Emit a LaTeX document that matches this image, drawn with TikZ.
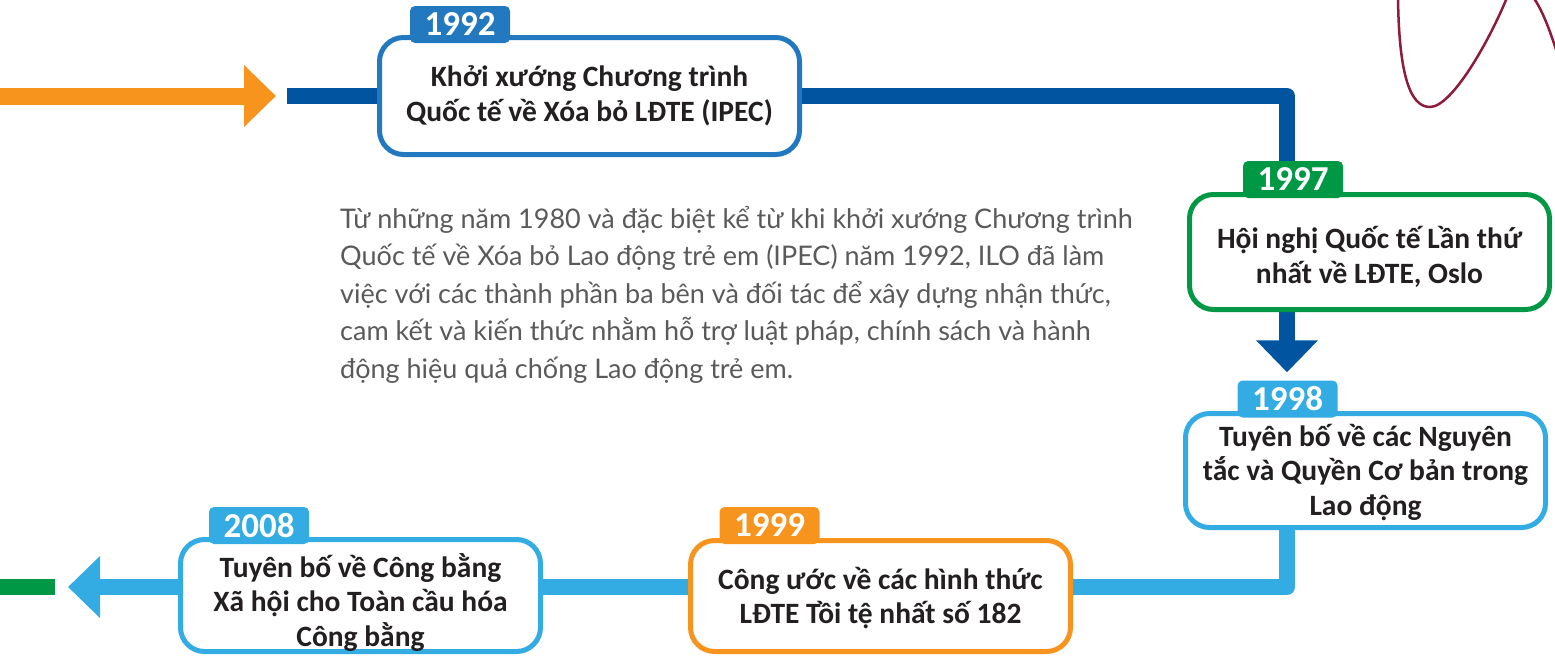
\documentclass[tikz,border=0pt]{standalone}
\usepackage{fontspec}
\setmainfont{Carlito}
\newfontfamily\bodyfont{Lato}
\usetikzlibrary{arrows.meta,calc}
\pgfdeclarelayer{bg}
\pgfsetlayers{bg,main}
\definecolor{orangeC}{HTML}{F7941E}
\definecolor{navyC}{HTML}{0154A0}
\definecolor{blueC}{HTML}{2279BF}
\definecolor{greenC}{HTML}{009845}
\definecolor{skyC}{HTML}{32ACE2}
\definecolor{inkC}{HTML}{231F20}
\definecolor{grayC}{HTML}{5A5A5A}
\definecolor{wineC}{HTML}{8E1A3C}
\newcommand\lowered[2]{\raisebox{-#1}[\height][\depth]{\begin{minipage}{350pt}\centering #2\end{minipage}}}
\begin{document}
\begin{tikzpicture}[x=1pt,y=-1pt,
  event/.style={draw=#1, line width=5pt, rounded corners=24pt, fill=white, align=center,
    text=inkC, font=\bfseries\fontsize{29.5}{34.5}\selectfont, inner sep=0pt},
  tag/.style={fill=#1, rounded corners=5pt, minimum width=100pt, minimum height=37pt,
    inner sep=0pt, text=white, font=\bfseries\fontsize{35}{35}\selectfont},
  track/.style={draw=#1, line width=16pt, line join=round},
  bigtip/.style={-{Triangle[width=60pt,length=32pt]}},
  wave/.style={draw=wineC, line width=2.5pt},
]
\useasboundingbox (0,0) rectangle (1555,656);
\begin{scope}
\clip (0,0) rectangle (1555,656);
\draw[wave] (1398,-2) .. controls (1399,75) and (1410,107) .. (1430,107)
  .. controls (1452,107) and (1490,40) .. (1508,-5)
  .. controls (1515,-20) and (1525,-15) .. (1535,0)
  .. controls (1545,15) and (1553,40) .. (1560,62);
\end{scope}

% free end coordinates
\coordinate (o0) at (0,96);
\coordinate (o1) at (276,96);
\coordinate (n0) at (287,96);
\coordinate (col) at (1287,0);
\coordinate (row) at (0,587);
\coordinate (g0) at (0,587);
\coordinate (g1) at (55,587);
\coordinate (endL) at (68,587);

% event boxes
\node[event=blueC, minimum width=420pt, minimum height=117pt] (b1992) at (589.5,96)
  {Khởi xướng Chương trình\\Quốc tế về Xóa bỏ LĐTE (IPEC)};
\node[event=greenC, minimum width=360pt, minimum height=115pt] (b1997) at (1369.5,252)
  {\lowered{5pt}{Hội nghị Quốc tế Lần thứ\\nhất về LĐTE, Oslo}};
\node[event=skyC, minimum width=360pt, minimum height=114pt] (b1998) at (1365.5,470.5)
  {\lowered{2pt}{Tuyên bố về các Nguyên\\tắc và Quyền Cơ bản trong\\Lao động}};
\node[event=orangeC, minimum width=380pt, minimum height=111pt] (b1999) at (880.5,596)
  {\lowered{2pt}{Công ước về các hình thức\\LĐTE Tồi tệ nhất số 182}};
\node[event=skyC, minimum width=360pt, minimum height=112pt] (b2008) at (360.5,595.5)
  {\lowered{7pt}{Tuyên bố về Công bằng\\Xã hội cho Toàn cầu hóa\\Công bằng}};

% tags
\node[tag=blueC] (t1992) at (460,24.5) {1992};
\node[tag=greenC] (t1997) at (1293,179.5) {1997};
\node[tag=skyC] (t1998) at (1287.5,399) {1998};
\node[tag=orangeC] (t1999) at (769.5,525.5) {1999};
\node[tag=skyC] (t2008) at (259,525.5) {2008};

% tracks
\begin{pgfonlayer}{bg}
\draw[track=orangeC, line width=17pt, bigtip] (o0) -- (o1);
\draw[track=navyC] (n0) -- (b1992.west);
\draw[track=navyC] (b1992.east) -| (col |- b1997.north);
\draw[track=navyC, bigtip, shorten >=8pt] (col |- b1997.south) -- (col |- t1998.north);
\draw[track=skyC] (col |- b1998.south) |- (b1999.east |- row);
\draw[track=skyC] (b1999.west |- row) -- (b2008.east |- row);
\draw[track=skyC, bigtip] (b2008.west |- row) -- (endL);
\draw[track=greenC] (g0) -- (g1);
\end{pgfonlayer}

% body text
\node[anchor=base west, align=left, inner sep=0pt, text=grayC,
  font=\bodyfont\fontsize{27}{37.5}\selectfont] (body) at (340,378)
  {Từ những năm 1980 và đặc biệt kể từ khi khởi xướng Chương trình\\
   Quốc tế về Xóa bỏ Lao động trẻ em (IPEC) năm 1992, ILO đã làm\\
   việc với các thành phần ba bên và đối tác để xây dựng nhận thức,\\
   cam kết và kiến thức nhằm hỗ trợ luật pháp, chính sách và hành\\
   động hiệu quả chống Lao động trẻ em.};
\end{tikzpicture}
\end{document}
